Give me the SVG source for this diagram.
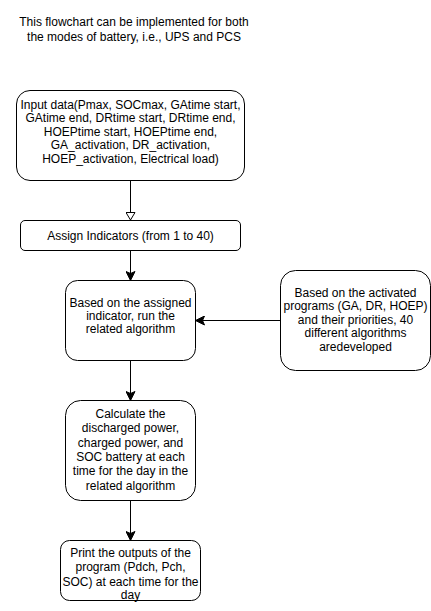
<svg xmlns="http://www.w3.org/2000/svg" width="431" height="611" viewBox="0 0 431 611">
<style>
  .box { fill: #ffffff; stroke: #000000; stroke-width: 1; }
  .t { font-family: "Liberation Sans", Arial, sans-serif; font-size: 12px; fill: #000000; text-anchor: middle; }
  .edge { fill: none; stroke: #000000; stroke-width: 1; }
</style>
<defs>
  <marker id="classic" markerUnits="userSpaceOnUse" markerWidth="10" markerHeight="10" refX="10" refY="5" orient="auto" viewBox="0 0 10 10">
    <path d="M10,5 L1,0.5 L3,5 L1,9.5 Z" fill="#000000" stroke="#000000" stroke-width="1"/>
  </marker>
  <marker id="openblock" markerUnits="userSpaceOnUse" markerWidth="10" markerHeight="10" refX="0.5" refY="5" orient="auto" viewBox="0 0 10 10">
    <path d="M0.5,0.5 L8,5 L0.5,9.5 Z" fill="#ffffff" stroke="#000000" stroke-width="1"/>
  </marker>
</defs>
<rect width="431" height="611" fill="#ffffff"/>

<g id="title">
  <text class="t" x="134" y="26">This flowchart can be implemented for both</text>
  <text class="t" x="134" y="40.5">the modes of battery, i.e., UPS and PCS</text>
</g>

<g id="connectors">
  <path class="edge" d="M130.5,180.5 L130.5,212.5" marker-end="url(#openblock)"/>
  <path class="edge" d="M130.5,250.5 L130.5,280.5" marker-end="url(#classic)"/>
  <path class="edge" d="M280.5,320.5 L195.5,320.5" marker-end="url(#classic)"/>
  <path class="edge" d="M130.5,360.5 L130.5,400.5" marker-end="url(#classic)"/>
  <path class="edge" d="M130.5,500.5 L130.5,540.5" marker-end="url(#classic)"/>
</g>

<g id="input">
  <rect class="box" x="16.5" y="90.5" width="228" height="90" rx="13.5" ry="13.5"/>
  <text class="t" x="130.5" y="108.5">Input data(Pmax, SOCmax, GAtime start,</text>
  <text class="t" x="130.5" y="122">GAtime end, DRtime start, DRtime end,</text>
  <text class="t" x="130.5" y="135.5">HOEPtime start, HOEPtime end,</text>
  <text class="t" x="130.5" y="149">GA_activation, DR_activation,</text>
  <text class="t" x="130.5" y="162.5">HOEP_activation, Electrical load)</text>
</g>

<g id="assign">
  <rect class="box" x="20.5" y="220.5" width="220" height="30" rx="4.5" ry="4.5"/>
  <text class="t" x="130.5" y="239.5">Assign Indicators (from 1 to 40)</text>
</g>

<g id="run">
  <rect class="box" x="65.5" y="280.5" width="130" height="80" rx="12" ry="12"/>
  <text class="t" x="130.5" y="306.5">Based on the assigned</text>
  <text class="t" x="130.5" y="319.8">indicator, run the</text>
  <text class="t" x="130.5" y="332.5">related algorithm</text>
</g>

<g id="programs">
  <rect class="box" x="280.5" y="270.5" width="150" height="100" rx="15" ry="15"/>
  <text class="t" x="355.5" y="296.5">Based on the activated</text>
  <text class="t" x="355.5" y="310">programs (GA, DR, HOEP)</text>
  <text class="t" x="355.5" y="323.5">and their priorities, 40</text>
  <text class="t" x="355.5" y="337">different algorithms</text>
  <text class="t" x="355.5" y="350.5">aredeveloped</text>
</g>

<g id="calculate">
  <rect class="box" x="65.5" y="400.5" width="130" height="100" rx="15" ry="15"/>
  <text class="t" x="130.5" y="418">Calculate the</text>
  <text class="t" x="130.5" y="432.3">discharged power,</text>
  <text class="t" x="130.5" y="446.6">charged power, and</text>
  <text class="t" x="130.5" y="460.9">SOC battery at each</text>
  <text class="t" x="130.5" y="475.2">time for the day in the</text>
  <text class="t" x="130.5" y="489.5">related algorithm</text>
</g>

<g id="print">
  <rect class="box" x="60.5" y="540.5" width="140" height="60" rx="9" ry="9"/>
  <text class="t" x="130.5" y="556.5">Print the outputs of the</text>
  <text class="t" x="130.5" y="571">program (Pdch, Pch,</text>
  <text class="t" x="130.5" y="585.5">SOC) at each time for the</text>
  <text class="t" x="130.5" y="599">day</text>
</g>
</svg>
